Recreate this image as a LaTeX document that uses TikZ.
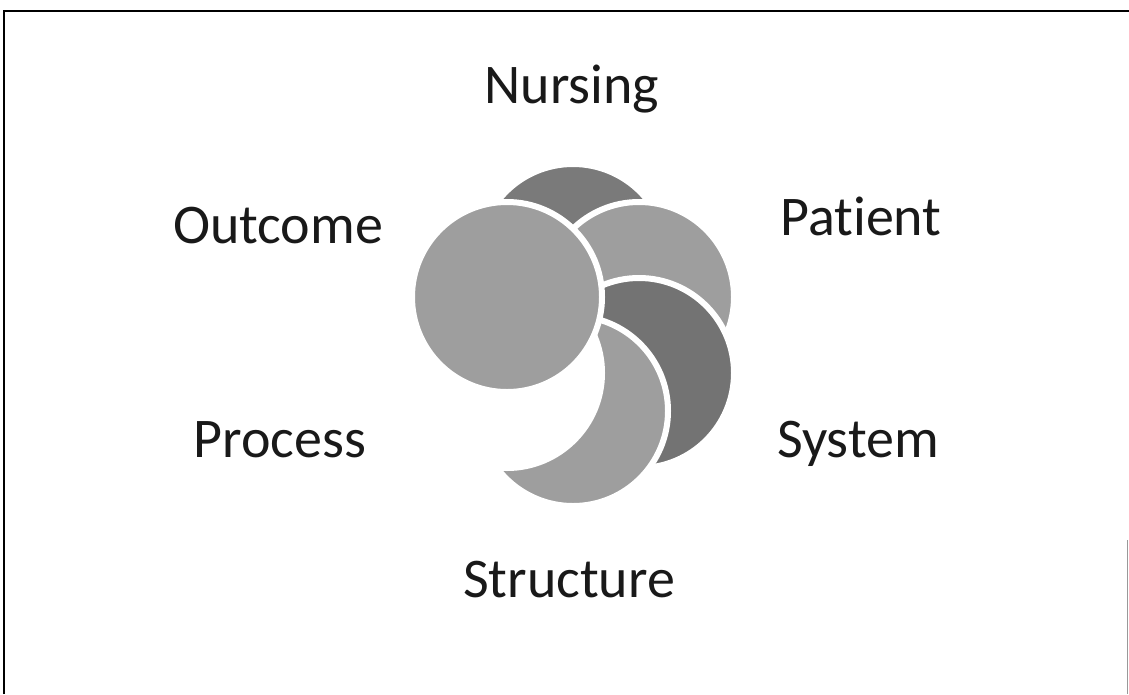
\documentclass[tikz,border=0pt]{standalone}
\usepackage{fontspec}
\setmainfont{Carlito}[Ligatures={NoCommon,NoRequired}]
\begin{document}
\begin{tikzpicture}[x=1pt, y=-1pt,
		petal/.style={circle, draw=white, line width=6pt, minimum size=190pt, inner sep=0pt},
		word/.style={anchor=base, text=black!90, font=\fontsize{56}{60}\selectfont}]
	\useasboundingbox (0,0) rectangle (1129,694);
	% frame
	\draw[line width=2.5pt] (4,694) -- (4,11) -- (1129,11);
	\draw[black!40, line width=1pt] (1127,540) -- (1127,694);
	
	% petals, back to front
	\node[petal, fill=black!52] (nursing) at (573,259) {};
	\node[petal, fill=black!38] (patient) at (639,297) {};
	\node[petal, fill=black!55] (system) at (639,373) {};
	\node[petal, fill=black!38] (structure) at (573,411) {};
	\node[petal, fill=white] (process) at (507,373) {};
	\node[petal, fill=black!38] (outcome) at (507,297) {};
	
	% words
	\node[word] (nursingtext) at (572,103) {Nursing};
	\node[word] (patienttext) at (861,235) {Patient};
	\node[word] (systemtext) at (858,457) {System};
	\node[word] (structuretext) at (569,597) {Structure};
	\node[word] (processtext) at (280,457) {Process};
	\node[word] (outcometext) at (278,243) {Outcome};
\end{tikzpicture}
\end{document}
